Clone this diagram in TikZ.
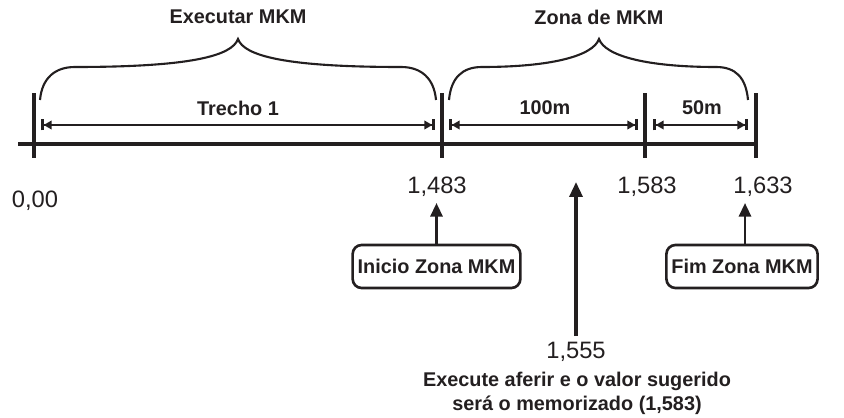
\documentclass[tikz,border=0pt]{standalone}
\usepackage{fontspec}
\setmainfont{Liberation Sans}
\usetikzlibrary{arrows.meta}
\definecolor{ink}{HTML}{231F20}

\tikzset{
  numlabel/.style={text=ink, font=\fontsize{13.5}{16}\selectfont},
  boldlabel/.style={text=ink, font=\fontsize{11.3}{13.5}\selectfont\bfseries},
  axisline/.style={draw=ink, line width=2.8pt},
  dimline/.style={draw=ink, line width=1.5pt,
    {Bar[width=0.22cm]Triangle[length=0.16cm,width=0.17cm]}-{Triangle[length=0.16cm,width=0.17cm]Bar[width=0.22cm]}},
  bracket/.style={draw=ink, line width=1.2pt},
  zonebox/.style={draw=ink, line width=1.5pt, rounded corners=0.18cm,
    minimum height=0.86cm, inner xsep=0.1cm},
  ptr/.style={draw=ink, line width=1.5pt, -{Triangle[length=0.27cm,width=0.24cm]}},
  bigptr/.style={draw=ink, line width=1.9pt, -{Triangle[length=0.3cm,width=0.26cm]}}
}

\begin{document}
\begin{tikzpicture}[x=0.02cm, y=-0.02cm]
  \useasboundingbox (0,0) rectangle (844,418);

  % positions of the marks along the line
  \coordinate (start) at (18,144);
  \coordinate (t0) at (34,144);
  \coordinate (t1) at (442,144);
  \coordinate (t2) at (645,144);
  \coordinate (t3) at (756,144);

  % the line and its marks
  \draw[axisline] (start) -- (t3);
  \foreach \t in {t0,t1,t2,t3}
    \draw[axisline] ([yshift=1.02cm]\t) -- ([yshift=-0.28cm]\t);

  % measured stretches
  \draw[dimline] (41,125) -- (435,125);
  \draw[dimline] (449,125) -- (638,125);
  \draw[dimline] (653,125) -- (748,125);
  \node[boldlabel] (trecho) at (238,108) {Trecho 1};
  \node[boldlabel] (cem) at (545,108) {100m};
  \node[boldlabel] (cinquenta) at (702,108) {50m};

  % brace over the first stretch
  \draw[bracket] (40,100) .. controls (42,78) and (55,67) .. (75,67)
    .. controls (190,67) and (232,56) .. (238,39)
    .. controls (244,56) and (286,67) .. (401,67)
    .. controls (421,67) and (434,78) .. (436,100);
  \node[boldlabel] (executar) at (238,17) {Executar MKM};

  % brace over the MKM zone
  \draw[bracket] (449,100) .. controls (451,78) and (462,67) .. (482,67)
    .. controls (551,67) and (593,56) .. (599,39)
    .. controls (605,56) and (647,67) .. (716,67)
    .. controls (736,67) and (746,78) .. (748,100);
  \node[boldlabel] (zona) at (599,17) {Zona de MKM};

  % values under the line
  \node[numlabel] (n000) at (35,201) {0,00};
  \node[numlabel] (n1483) at (437,187) {1,483};
  \node[numlabel] (n1583) at (647,187) {1,583};
  \node[numlabel] (n1633) at (763,187) {1,633};

  % start and end of the zone
  \node[zonebox, boldlabel] (inicio) at (436.5,266.5) {Inicio Zona MKM};
  \node[zonebox, boldlabel] (fim) at (742,266.5) {Fim Zona MKM};
  \draw[ptr] (inicio.north) -- (inicio.north |- n1483.south);
  \draw[ptr] ([xshift=0.06cm]fim.north) -- ([xshift=0.06cm]fim.north |- n1633.south);

  % point where the check is done
  \coordinate (mkmtop) at (576,182);
  \node[numlabel] (n1555) at (576,352) {1,555};
  \draw[bigptr] (n1555.north) -- (mkmtop);
  \node[boldlabel, align=center] (aferir) at (577,393.5)
    {Execute aferir e o valor sugerido\\será o memorizado (1,583)};

\end{tikzpicture}
\end{document}
